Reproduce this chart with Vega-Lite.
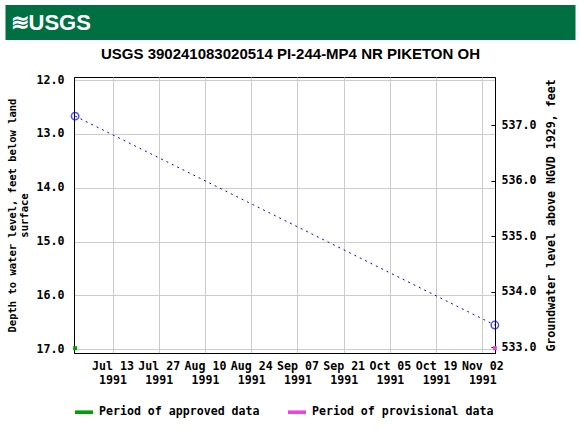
{
  "$schema": "https://vega.github.io/schema/vega-lite/v6.json",
  "padding": 5,
  "spacing": 6,
  "columns": 1,
  "bounds": "full",
  "background": "white",
  "datasets": {
    "levels": [
      {"date": "1991-07-01T16:00:00Z", "depth": 12.67, "elev": 537.16},
      {"date": "1991-11-05T19:00:00Z", "depth": 16.55, "elev": 533.40}
    ],
    "periods": [
      {"date": "1991-07-01T16:00:00Z", "period": "Period of approved data"},
      {"date": "1991-11-05T19:00:00Z", "period": "Period of provisional data"}
    ]
  },
  "config": {
    "font": "DejaVu Sans Mono",
    "axis": {
      "labelFont": "DejaVu Sans Mono",
      "labelFontSize": 11.6,
      "labelFontWeight": "bold",
      "labelColor": "black",
      "titleFont": "DejaVu Sans Mono",
      "titleFontWeight": "bold",
      "titleColor": "black",
      "domainColor": "black",
      "gridColor": "#cccccc",
      "gridOpacity": 1,
      "tickColor": "black"
    }
  },
  "resolve": {"scale": {"color": "independent", "x": "independent"}, "legend": {"color": "independent"}},
  "concat": [
    {
      "width": 421,
      "height": 35,
      "view": {"stroke": null},
      "data": {"values": [{"logo": "≋USGS", "start": 0, "end": 1}]},
      "layer": [
        {
          "mark": {"type": "rect", "color": "#006f41", "clip": false},
          "encoding": {
            "x": {"field": "start", "type": "quantitative", "scale": {"domain": [0, 1], "range": [-68.5, 501.5]}, "axis": null},
            "x2": {"field": "end"}
          }
        },
        {
          "mark": {
            "type": "text",
            "align": "left",
            "baseline": "middle",
            "dx": 5,
            "font": "Liberation Sans",
            "fontWeight": "bold",
            "fontSize": 22,
            "color": "white"
          },
          "encoding": {
            "x": {"field": "start", "type": "quantitative"},
            "text": {"field": "logo"}
          }
        }
      ]
    },
    {
      "width": 421,
      "height": 276,
      "view": {"stroke": "black", "strokeWidth": 1},
      "title": {
        "text": "USGS 390241083020514 PI-244-MP4 NR PIKETON OH",
        "font": "Liberation Sans",
        "fontWeight": "bold",
        "fontSize": 15,
        "color": "black",
        "anchor": "middle",
        "dx": 6,
        "offset": 12
      },
      "layer": [
        {
          "layer": [
            {
              "data": {"name": "levels"},
              "mark": {"type": "line", "color": "#0000ff", "strokeWidth": 1, "strokeDash": [2, 4]},
              "encoding": {
                "x": {
                  "field": "date",
                  "type": "temporal",
                  "scale": {
                    "type": "utc",
                    "domain": [
                      {"year": 1991, "month": 7, "date": 1, "hours": 8, "utc": true},
                      {"year": 1991, "month": 11, "date": 5, "hours": 20, "utc": true}
                    ]
                  },
                  "axis": {
                    "title": null,
                    "values": [
                      {"year": 1991, "month": 7, "date": 13, "utc": true},
                      {"year": 1991, "month": 7, "date": 27, "utc": true},
                      {"year": 1991, "month": 8, "date": 10, "utc": true},
                      {"year": 1991, "month": 8, "date": 24, "utc": true},
                      {"year": 1991, "month": 9, "date": 7, "utc": true},
                      {"year": 1991, "month": 9, "date": 21, "utc": true},
                      {"year": 1991, "month": 10, "date": 5, "utc": true},
                      {"year": 1991, "month": 10, "date": 19, "utc": true},
                      {"year": 1991, "month": 11, "date": 2, "utc": true}
                    ],
                    "labelExpr": "[utcFormat(datum.value, '%b %d'), utcFormat(datum.value, '%Y')]",
                    "labelLineHeight": 14,
                    "labelPadding": 7,
                    "ticks": false,
                    "grid": true,
                    "labelFlush": false,
                    "labelOverlap": false
                  }
                },
                "y": {
                  "field": "depth",
                  "type": "quantitative",
                  "scale": {"domain": [11.944, 17.069], "reverse": true, "nice": false, "zero": false},
                  "axis": {
                    "title": ["Depth to water level, feet below land", "surface"],
                    "titleFontSize": 10.5,
                    "titleLineHeight": 12,
                    "titlePadding": 7,
                    "values": [12, 13, 14, 15, 16, 17],
                    "format": ".1f",
                    "ticks": false,
                    "labelPadding": 10,
                    "grid": true
                  }
                }
              }
            },
            {
              "data": {"name": "levels"},
              "mark": {"type": "point", "shape": "circle", "filled": false, "color": "#0000ff", "size": 55, "strokeWidth": 1.5},
              "encoding": {
                "x": {"field": "date", "type": "temporal"},
                "y": {"field": "depth", "type": "quantitative"}
              }
            },
            {
              "data": {"name": "periods"},
              "mark": {"type": "square", "size": 16, "opacity": 1},
              "encoding": {
                "x": {"field": "date", "type": "temporal"},
                "y": {"datum": 16.98, "type": "quantitative"},
                "color": {
                  "field": "period",
                  "type": "nominal",
                  "scale": {
                    "domain": ["Period of approved data", "Period of provisional data"],
                    "range": ["#00a000", "#ee44dd"]
                  },
                  "legend": {
                    "title": null,
                    "orient": "none",
                    "direction": "horizontal",
                    "legendX": 1,
                    "legendY": 326,
                    "padding": 0,
                    "symbolType": "M-1,-0.2H1V0.2H-1Z",
                    "symbolSize": 324,
                    "symbolStrokeWidth": 0,
                    "symbolOpacity": 1,
                    "labelFont": "DejaVu Sans Mono",
                    "labelFontSize": 11.6,
                    "labelFontWeight": "bold",
                    "labelColor": "black",
                    "labelOffset": 6,
                    "columnPadding": 28,
                    "labelLimit": 300
                  }
                }
              }
            }
          ]
        },
        {
          "data": {"name": "levels"},
          "mark": {"type": "point", "opacity": 0},
          "encoding": {
            "x": {"field": "date", "type": "temporal"},
            "y": {
              "field": "elev",
              "type": "quantitative",
              "scale": {"domain": [532.897, 537.87], "nice": false, "zero": false},
              "axis": {
                "orient": "right",
                "title": "Groundwater level above NGVD 1929, feet",
                "titleFontSize": 11.6,
                "titleAngle": 270,
                "titleBaseline": "top",
                "titlePadding": 10,
                "values": [533, 534, 535, 536, 537],
                "format": ".1f",
                "grid": false,
                "tickSize": -4,
                "labelPadding": 10
              }
            }
          }
        }
      ],
      "resolve": {"scale": {"y": "independent"}}
    }
  ]
}
